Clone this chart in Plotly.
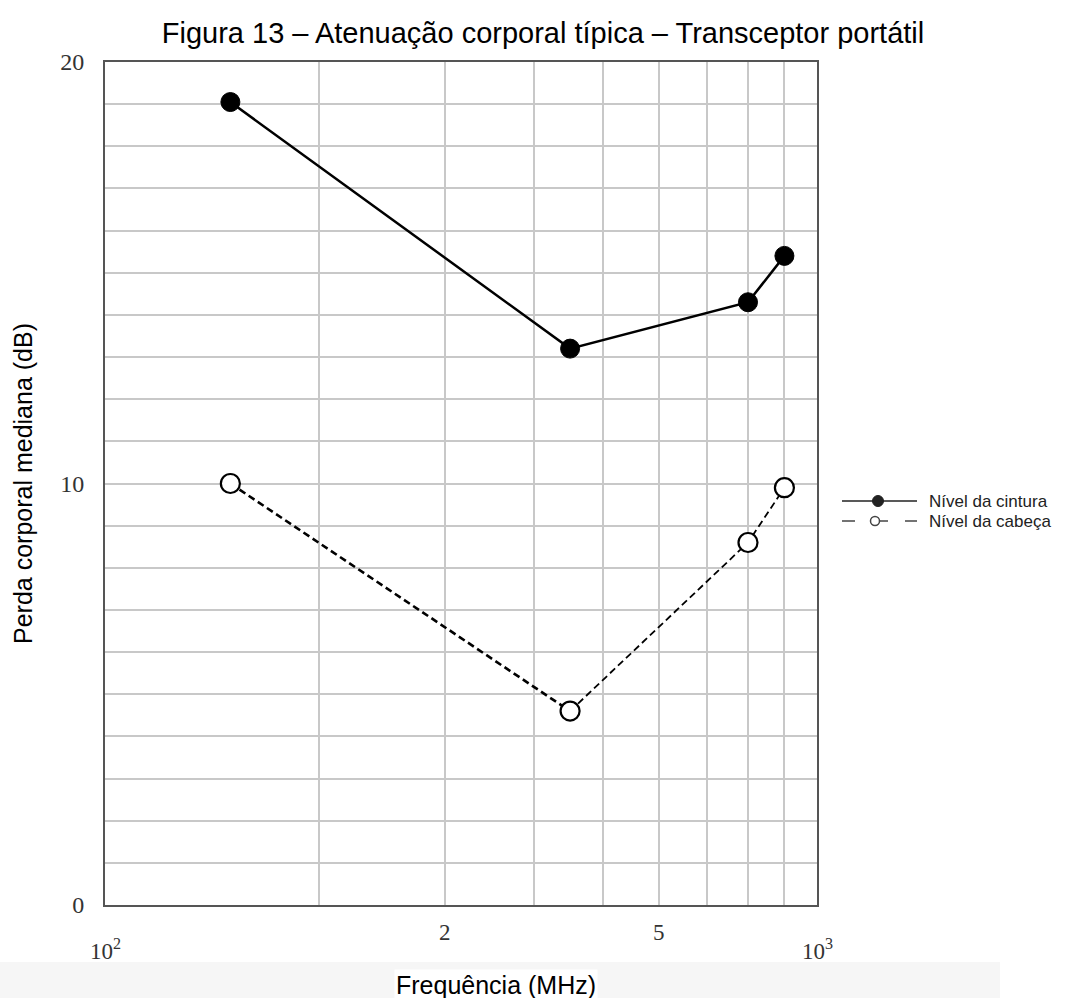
import math
import plotly.graph_objects as go

# ---- data ----
freq_mhz = [150, 450, 800, 900]
cintura_db = [19.05, 13.2, 14.3, 15.4]
cabeca_db = [10.0, 4.6, 8.6, 9.9]

series_names = ["Nível da cintura", "Nível da cabeça"]

x_grid_vals = [200, 300, 400, 500, 600, 700, 800, 900]
x_label_vals = [100, 300, 600, 1000]
x_label_text = ["10<sup>2</sup>", "2", "5", "10<sup>3</sup>"]
x_label_low = [True, False, False, True]

y_tick_vals = [0, 10, 20]
y_grid_vals = list(range(0, 21))

title_text = "Figura 13 – Atenuação corporal típica – Transceptor portátil"
x_title = "Frequência (MHz)"
y_title = "Perda corporal mediana (dB)"

SERIF = "Liberation Serif, Times New Roman, serif"
SANS = "Liberation Sans, Arial, sans-serif"

W, H = 1079, 998
L, R, T, B = 105, 817, 62, 905  # plot area in pixels


def px(x):
    return (x - L) / (R - L)


def py(y):
    return (B - y) / (B - T)


fig = go.Figure()

# waist level: solid line with filled markers
fig.add_trace(go.Scatter(
    x=freq_mhz, y=cintura_db, mode="lines+markers",
    line=dict(color="black", width=2.5),
    marker=dict(size=19, color="black", line=dict(color="black", width=1)),
    showlegend=False, name=series_names[0]))

# head level: dashed line (first segment heavier), open markers
fig.add_trace(go.Scatter(
    x=freq_mhz[:2], y=cabeca_db[:2], mode="lines",
    line=dict(color="black", width=2.6, dash="7px,4px"),
    showlegend=False, hoverinfo="skip"))
fig.add_trace(go.Scatter(
    x=freq_mhz[1:], y=cabeca_db[1:], mode="lines",
    line=dict(color="black", width=1.8, dash="7px,4px"),
    showlegend=False, hoverinfo="skip"))
fig.add_trace(go.Scatter(
    x=freq_mhz, y=cabeca_db, mode="markers",
    marker=dict(size=19, color="white", line=dict(color="black", width=2.2)),
    showlegend=False, name=series_names[1]))

# x tick labels (as in the original, staggered)
for v, t, low in zip(x_label_vals, x_label_text, x_label_low):
    fig.add_annotation(
        x=math.log10(v), y=0, xref="x", yref="y", text=t, showarrow=False,
        yanchor="top", yshift=-(28 if low else 13),
        font=dict(family=SERIF, size=23, color="#333"))

# light grey band at the bottom (scan artefact)
fig.add_shape(type="rect", xref="paper", yref="paper",
              x0=px(0), x1=px(1000), y0=py(962), y1=py(998),
              fillcolor="#f6f6f6", line=dict(width=0), layer="below")

# x axis title with white background
fig.add_annotation(
    x=px(496), y=py(985), xref="paper", yref="paper", text=x_title,
    showarrow=False, xanchor="center", yanchor="middle", bgcolor="white",
    font=dict(family=SANS, size=25, color="black"))

# manual legend
leg_y = [501, 521]
for i, name in enumerate(series_names):
    fig.add_annotation(
        x=px(927), y=py(leg_y[i]), xref="paper", yref="paper", text=name,
        showarrow=False, xanchor="left", yanchor="middle",
        font=dict(family=SANS, size=17, color="#222"))

yy = py(leg_y[0])
fig.add_shape(type="line", xref="paper", yref="paper",
              x0=px(842), x1=px(917), y0=yy, y1=yy,
              line=dict(color="#222", width=1.5))
fig.add_shape(type="circle", xref="paper", yref="paper",
              x0=px(878 - 5.5), x1=px(878 + 5.5),
              y0=py(leg_y[0] + 5.5), y1=py(leg_y[0] - 5.5),
              fillcolor="#222", line=dict(color="#222", width=1))
yy = py(leg_y[1])
for a, b in [(842, 855), (880, 888), (905, 917)]:
    fig.add_shape(type="line", xref="paper", yref="paper",
                  x0=px(a), x1=px(b), y0=yy, y1=yy,
                  line=dict(color="#444", width=1.5))
fig.add_shape(type="circle", xref="paper", yref="paper",
              x0=px(875 - 4.5), x1=px(875 + 4.5),
              y0=py(leg_y[1] + 4.5), y1=py(leg_y[1] - 4.5),
              fillcolor="white", line=dict(color="#444", width=1.5))

fig.update_layout(
    width=W, height=H,
    margin=dict(l=L, r=W - R, t=T, b=H - B),
    paper_bgcolor="white", plot_bgcolor="white",
    title=dict(text=title_text, x=543 / W, xanchor="center", y=1 - 33 / H,
               yanchor="middle", font=dict(family=SANS, size=29, color="black")),
    xaxis=dict(
        type="log", range=[2, 3], showticklabels=False, ticks="", showgrid=False,
        minor=dict(tickvals=x_grid_vals, showgrid=True, gridcolor="#c8c8c8",
                   gridwidth=1.5, ticks=""),
        showline=True, linecolor="#555", linewidth=2, mirror=True, zeroline=False,
    ),
    yaxis=dict(
        range=[0, 20], tickvals=y_tick_vals, showgrid=False,
        tickfont=dict(family=SERIF, size=24, color="#333"), ticks="",
        ticklabelstandoff=14,
        minor=dict(tickvals=y_grid_vals, showgrid=True, gridcolor="#c8c8c8",
                   gridwidth=1.5, ticks=""),
        showline=True, linecolor="#555", linewidth=2, mirror=True, zeroline=False,
        title=dict(text=y_title, standoff=20,
                   font=dict(family=SANS, size=25, color="black")),
    ),
)

fig.write_html("out.html")
